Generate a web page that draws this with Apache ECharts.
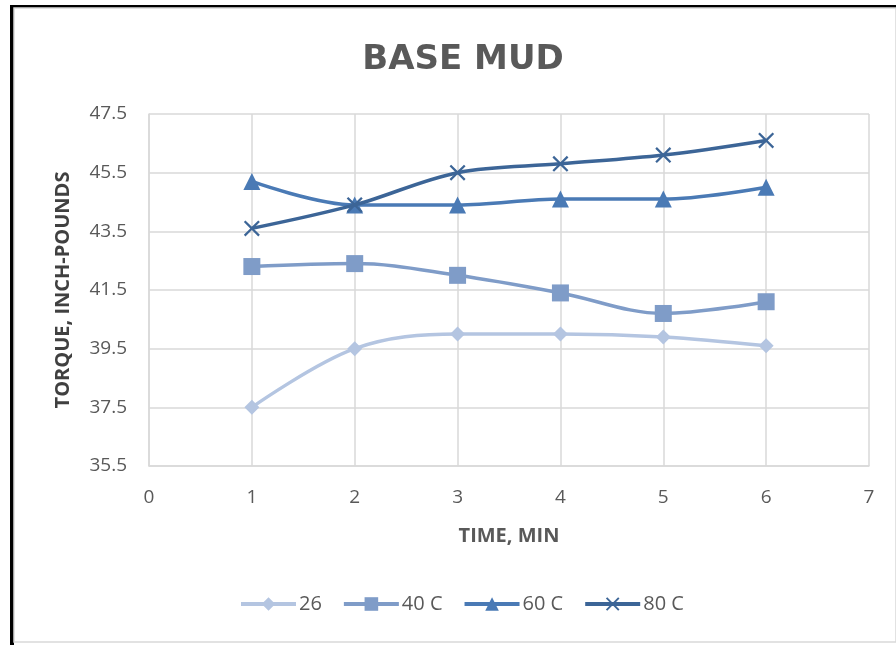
<!DOCTYPE html>
<html>
<head>
<meta charset="utf-8">
<script src="https://cdn.jsdelivr.net/npm/echarts@6/dist/echarts.min.js"></script>
<style>
  html, body { margin: 0; padding: 0; background: #fff; }
  #chart { width: 896px; height: 645px; }
</style>
</head>
<body>
<div id="chart"></div>
<script>
// Torque readings over time for the base mud at four temperatures
const times = [1, 2, 3, 4, 5, 6];
const seriesNames = ['26', '40 C', '60 C', '80 C'];
const torque26 = [37.5, 39.5, 40.0, 40.0, 39.9, 39.6];
const torque40 = [42.3, 42.4, 42.0, 41.4, 40.7, 41.1];
const torque60 = [45.2, 44.4, 44.4, 44.6, 44.6, 45.0];
const torque80 = [43.6, 44.4, 45.5, 45.8, 46.1, 46.6];
const yTicks = [35.5, 37.5, 39.5, 41.5, 43.5, 45.5, 47.5];

const colors = ['#b4c5e1', '#7f9cc8', '#4a7ab5', '#3c6597'];
const crossPath = 'path://M0,1 L1,0 L5,4 L9,0 L10,1 L6,5 L10,9 L9,10 L5,6 L1,10 L0,9 L4,5 Z';
const symbols = ['diamond', 'rect', 'triangle', crossPath];
const symbolSizes = [15, 17, 17, 16];
const values = [torque26, torque40, torque60, torque80];

const font = '"Open Sans", "DejaVu Sans", sans-serif';
const textGray = '#595959';

const chart = echarts.init(document.getElementById('chart'), null, { renderer: 'canvas' });

const series = seriesNames.map((name, i) => ({
  name: name,
  type: 'line',
  smooth: 0.35,
  data: times.map((t, k) => [t, values[i][k]]),
  symbol: symbols[i],
  symbolSize: symbolSizes[i],
  showAllSymbol: true,
  lineStyle: { width: 3.5, color: colors[i] },
  itemStyle: { color: colors[i] },
  emphasis: { disabled: true },
  z: 2 + i
}));

chart.setOption({
  animation: false,
  backgroundColor: '#ffffff',
  color: colors,
  title: {
    text: 'BASE MUD',
    left: 458,
    top: 38,
    textAlign: 'center',
    textStyle: { fontFamily: '"DejaVu Sans", sans-serif', fontWeight: 'bold', fontSize: 34, color: textGray }
  },
  grid: { left: 149, right: 27, top: 114, bottom: 179, containLabel: false },
  xAxis: {
    type: 'value',
    min: 0,
    max: 7,
    interval: 1,
    name: 'TIME, MIN',
    nameLocation: 'middle',
    nameGap: 60,
    nameTextStyle: { fontFamily: font, fontWeight: 'bold', fontSize: 20, color: textGray },
    axisLine: { show: true, lineStyle: { color: '#d9d9d9', width: 1.5 } },
    axisTick: { show: false },
    axisLabel: { fontFamily: font, fontSize: 19, color: textGray, margin: 22 },
    splitLine: { show: true, lineStyle: { color: '#d9d9d9', width: 1.5 } }
  },
  yAxis: {
    type: 'value',
    min: yTicks[0],
    max: yTicks[yTicks.length - 1],
    interval: 2,
    name: 'TORQUE, INCH-POUNDS',
    nameLocation: 'middle',
    nameGap: 76,
    nameRotate: 90,
    nameTextStyle: { fontFamily: font, fontWeight: 'bold', fontSize: 20, color: '#404040' },
    axisLine: { show: true, lineStyle: { color: '#d9d9d9', width: 1.5 } },
    axisTick: { show: false },
    axisLabel: {
      fontFamily: font, fontSize: 19, color: textGray, margin: 22,
      formatter: v => v.toFixed(1)
    },
    splitLine: { show: true, lineStyle: { color: '#d9d9d9', width: 1.5 } }
  },
  legend: {
    data: seriesNames,
    bottom: 26,
    left: 234,
    itemWidth: 55,
    itemHeight: 17,
    itemGap: 20,
    lineStyle: { width: 4 },
    textStyle: { fontFamily: font, fontSize: 20, color: textGray, padding: [0, 0, 0, -2] }
  },
  graphic: [
    // outer dark frame on the left and top
    { type: 'rect', shape: { x: 10, y: 5, width: 4, height: 640 }, style: { fill: '#000' }, silent: true },
    { type: 'rect', shape: { x: 10, y: 5, width: 886, height: 3 }, style: { fill: '#000' }, silent: true },
    // inner light chart border
    { type: 'rect', shape: { x: 14, y: 8, width: 882, height: 634 }, style: { fill: 'none', stroke: '#d9d9d9', lineWidth: 1.5 }, silent: true }
  ],
  series: series
});
</script>
</body>
</html>
